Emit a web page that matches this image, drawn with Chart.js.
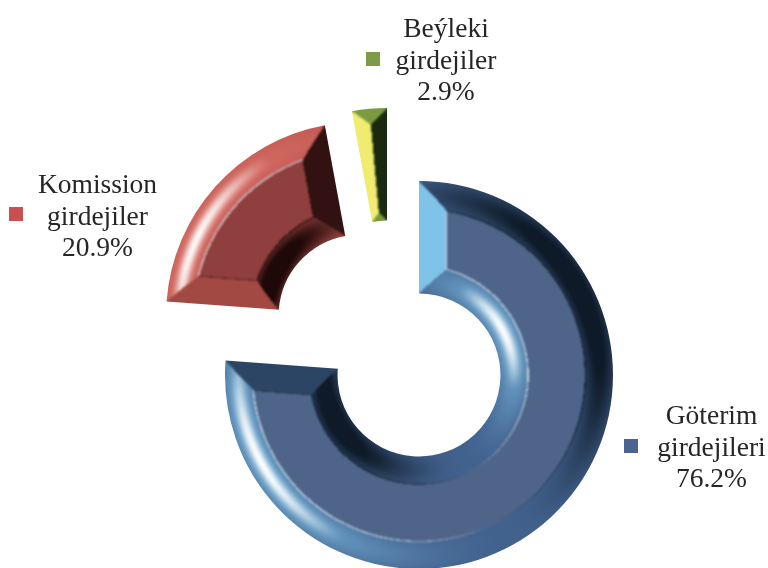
<!DOCTYPE html>
<html>
<head>
<meta charset="utf-8">
<title>Girdejiler</title>
<script src="https://cdn.jsdelivr.net/npm/chart.js@4"></script>
<style>
  html, body { margin: 0; background: #fff; }
  canvas { display: block; }
</style>
</head>
<body>
<canvas id="chart" width="768" height="568"></canvas>
<script>
const categories = [["Göterim", "girdejileri"], ["Komission", "girdejiler"], ["Beýleki", "girdejiler"]];
const shares = [76.2, 20.9, 2.9];
const markerColors = ["#4A6492", "#C8504F", "#7F9A48"];

// how the slices are pulled apart and lit, same order as the data
const looks = [
  { shift: [0, 0], light: [-0.88, 0.47], face: [78, 100, 137], dark: [14, 26, 40], mid: [66, 98, 142], bright: [128, 195, 232] },
  { shift: [-59, -59], light: [-0.91, -0.4], face: [143, 63, 61], dark: [30, 8, 8], mid: [190, 86, 80], bright: [224, 120, 110] },
  { shift: [-32, -73], light: [-1, 0], face: [120, 153, 63], dark: [26, 42, 16], mid: [122, 154, 64], bright: [240, 236, 112] },
];
const labelSpots = [
  { x: 711.5, y: 424, mark: [624, 439] },
  { x: 97.5, y: 193, mark: [9, 207] },
  { x: 446, y: 37, mark: [366, 52] },
];
const BEVEL = 27;

const mix = (a, b, t) => [0, 1, 2].map((i) => a[i] + (b[i] - a[i]) * t);
const clamp = (v, lo, hi) => Math.min(hi, Math.max(lo, v));

function shadePixel(look, nx, ny, d, flat) {
  const c = nx * look.light[0] + ny * look.light[1];
  if (d > BEVEL + 1.3) return look.face;
  if (d > BEVEL) {
    if (c > 0.15) return mix(look.face, [225, 235, 245], Math.min(0.85, c));
    return mix(look.face, look.dark, Math.min(0.9, -c * 1.1));
  }
  const t = clamp(d / BEVEL, 0, 1);
  const p = Math.sin(Math.PI * t);
  const depth = flat ? 1 : 0.55 + 0.45 * p;
  const amount = Math.sign(c) * Math.pow(Math.abs(c), 1.8) * depth;
  let rgb = amount < 0
    ? mix(look.mid, look.dark, Math.min(1, -amount * 1.25))
    : mix(look.mid, look.bright, Math.min(1, amount * (flat ? 1.3 : 0.75)));
  if (!flat && c > 0.8) {
    const s = Math.pow((c - 0.8) / 0.2, 1.3) * Math.pow(p, 4);
    rgb = mix(rgb, [255, 255, 255], s);
  }
  return rgb;
}

function paintSlice(img, arc, look) {
  const { x, y, startAngle, endAngle, innerRadius: ri, outerRadius: ro } =
    arc.getProps(["x", "y", "startAngle", "endAngle", "innerRadius", "outerRadius"], true);
  const span = endAngle - startAngle;
  const W = img.width, H = img.height;
  const sn = [Math.sin(startAngle), -Math.cos(startAngle)];
  const en = [-Math.sin(endAngle), Math.cos(endAngle)];
  for (let py = Math.max(0, Math.floor(y - ro - 2)); py < Math.min(H, y + ro + 2); py++) {
    for (let px = Math.max(0, Math.floor(x - ro - 2)); px < Math.min(W, x + ro + 2); px++) {
      const dx = px + 0.5 - x, dy = py + 0.5 - y;
      const r = Math.hypot(dx, dy);
      if (r < ri - 2 || r > ro + 2) continue;
      let a = (Math.atan2(dy, dx) - startAngle) % (2 * Math.PI);
      if (a < 0) a += 2 * Math.PI;
      if (a > span + (2 * Math.PI - span) / 2) a -= 2 * Math.PI;
      if (a < -0.05 || a > span + 0.05) continue;
      const dOut = ro - r, dIn = r - ri;
      const dS = r * Math.sin(Math.min(a, Math.PI / 2));
      const dE = r * Math.sin(Math.min(span - a, Math.PI / 2));
      const d = Math.min(dOut, dIn, dS, dE);
      let n, flat = false;
      if (d === dOut) n = [dx / r, dy / r];
      else if (d === dIn) n = [-dx / r, -dy / r];
      else if (d === dS) { n = sn; flat = true; }
      else { n = en; flat = true; }
      const rgb = shadePixel(look, n[0], n[1], d, flat);
      const i = (py * W + px) * 4;
      img.data[i] = rgb[0]; img.data[i + 1] = rgb[1]; img.data[i + 2] = rgb[2]; img.data[i + 3] = 255;
    }
  }
}

const explode = {
  id: "explode",
  afterDatasetsUpdate(chart) {
    chart.getDatasetMeta(0).data.forEach((arc, i) => {
      arc.x += looks[i].shift[0];
      arc.y += looks[i].shift[1];
    });
  },
};

const bevel = {
  id: "bevel",
  afterDatasetsDraw(chart) {
    const { ctx, width, height } = chart;
    const layer = document.createElement("canvas");
    layer.width = width; layer.height = height;
    const lctx = layer.getContext("2d");
    const img = lctx.createImageData(width, height);
    chart.getDatasetMeta(0).data.forEach((arc, i) => paintSlice(img, arc, looks[i]));
    lctx.putImageData(img, 0, 0);
    ctx.save();
    ctx.globalCompositeOperation = "source-atop";
    ctx.filter = "blur(0.8px)";
    ctx.drawImage(layer, 0, 0);
    ctx.restore();
  },
};

const labels = {
  id: "sliceLabels",
  afterDraw(chart) {
    const { ctx } = chart;
    ctx.save();
    ctx.font = '27.5px "Liberation Serif"';
    ctx.textAlign = "center";
    ctx.fillStyle = "#262626";
    categories.forEach((lines, i) => {
      const spot = labelSpots[i];
      [...lines, shares[i].toFixed(1) + "%"].forEach((t, j) => ctx.fillText(t, spot.x, spot.y + j * 31.5));
      ctx.fillStyle = markerColors[i];
      ctx.fillRect(spot.mark[0], spot.mark[1], 14, 14);
      ctx.fillStyle = "#262626";
    });
    ctx.restore();
  },
};

new Chart(document.getElementById("chart"), {
  type: "doughnut",
  data: {
    labels: categories.map((c) => c.join(" ")),
    datasets: [{ data: shares, backgroundColor: markerColors, borderWidth: 0 }],
  },
  options: {
    responsive: false,
    animation: false,
    radius: 194,
    cutout: 81,
    layout: { padding: { left: 70, top: 182, right: 0, bottom: 0 } },
    plugins: { legend: { display: false }, tooltip: { enabled: false } },
  },
  plugins: [explode, bevel, labels],
});
</script>
</body>
</html>
